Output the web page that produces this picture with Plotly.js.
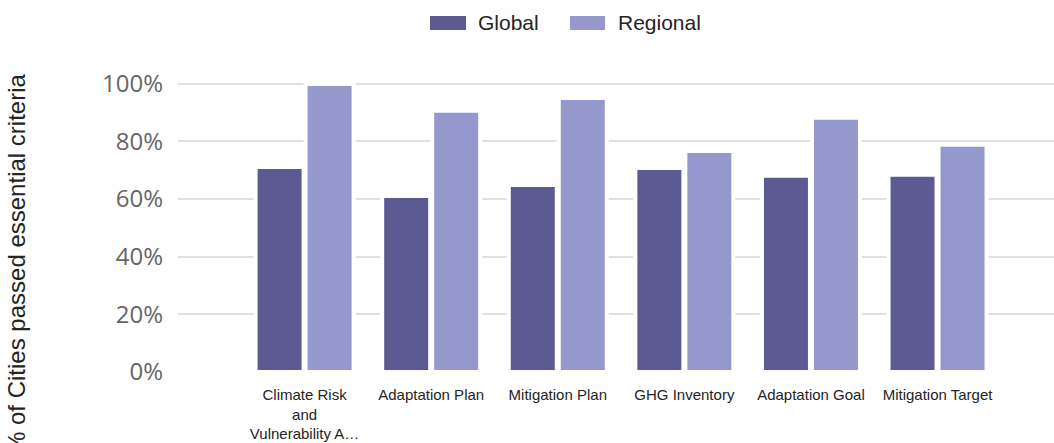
<!DOCTYPE html>
<html>
<head>
<meta charset="utf-8">
<script src="https://cdn.plot.ly/plotly-3.0.1.min.js"></script>
<style>html,body{margin:0;padding:0;background:#fff;}#chart{width:1054px;height:443px;}</style>
</head>
<body>
<div id="chart"></div>
<script>
const categories = ["Climate Risk and Vulnerability Assessment", "Adaptation Plan", "Mitigation Plan", "GHG Inventory", "Adaptation Goal", "Mitigation Target"];
const tickLabels = ["Climate Risk<br>and<br>Vulnerability A…", "Adaptation Plan", "Mitigation Plan", "GHG Inventory", "Adaptation Goal", "Mitigation Target"];
const globalValues = [0.711, 0.611, 0.649, 0.708, 0.681, 0.684];
const regionalValues = [0.999, 0.906, 0.951, 0.767, 0.882, 0.788];
const seriesNames = ["Global", "Regional"];
const seriesColors = ["#5b5a93", "#9598cc"];

const traces = [globalValues, regionalValues].map((vals, i) => ({
  type: 'bar',
  name: seriesNames[i],
  x: categories,
  y: vals,
  marker: {color: seriesColors[i], line: {color: '#ffffff', width: 4}},
  hoverinfo: 'x+y+name'
}));

const L = 178, R = 0, T = 78, B = 71, W = 1054, H = 443;
const pw = W - L - R, ph = H - T - B;
const px = x => (x - L) / pw;
const py = y => (H - B - y) / ph;

const layout = {
  width: W, height: H,
  margin: {l: L, r: R, t: T, b: B, pad: 0},
  paper_bgcolor: '#ffffff', plot_bgcolor: '#ffffff',
  barmode: 'group', bargap: 0.21, bargroupgap: 0.04,
  showlegend: false,
  xaxis: {
    type: 'category',
    range: [-1, 5.92],
    tickmode: 'array', tickvals: categories, ticktext: tickLabels,
    showgrid: false, zeroline: false, showline: false, ticks: '',
    ticklabelstandoff: 12,
    tickfont: {family: 'Liberation Sans, Arial, sans-serif', size: 15, color: '#252423'},
    tickangle: 0
  },
  yaxis: {
    range: [0, 1.02],
    tickvals: [0, 0.2, 0.4, 0.6, 0.8, 1.0],
    tickformat: '.0%',
    showgrid: true, gridcolor: '#e1e1e1', gridwidth: 2,
    zeroline: false, showline: false, ticks: '',
    ticklabelstandoff: 14,
    tickfont: {family: 'Open Sans, sans-serif', size: 24, color: '#666666'}
  },
  shapes: [
    {type: 'rect', xref: 'paper', yref: 'paper', x0: px(430), x1: px(466), y0: py(30), y1: py(16), fillcolor: seriesColors[0], line: {width: 0}},
    {type: 'rect', xref: 'paper', yref: 'paper', x0: px(570), x1: px(605), y0: py(30), y1: py(16), fillcolor: seriesColors[1], line: {width: 0}}
  ],
  annotations: [
    {xref: 'paper', yref: 'paper', x: px(16), y: py(264), text: '% of Cities passed essential criteria', textangle: -90, showarrow: false, xanchor: 'center', yanchor: 'middle', font: {family: 'Liberation Sans, Arial, sans-serif', size: 24, color: '#252423'}},
    {xref: 'paper', yref: 'paper', x: px(476), y: py(23), text: seriesNames[0], showarrow: false, xanchor: 'left', yanchor: 'middle', font: {family: 'Liberation Sans, Arial, sans-serif', size: 21, color: '#252423'}},
    {xref: 'paper', yref: 'paper', x: px(616), y: py(23), text: seriesNames[1], showarrow: false, xanchor: 'left', yanchor: 'middle', font: {family: 'Liberation Sans, Arial, sans-serif', size: 21, color: '#252423'}}
  ]
};

Plotly.newPlot('chart', traces, layout, {displayModeBar: false, staticPlot: true});
</script>
</body>
</html>
